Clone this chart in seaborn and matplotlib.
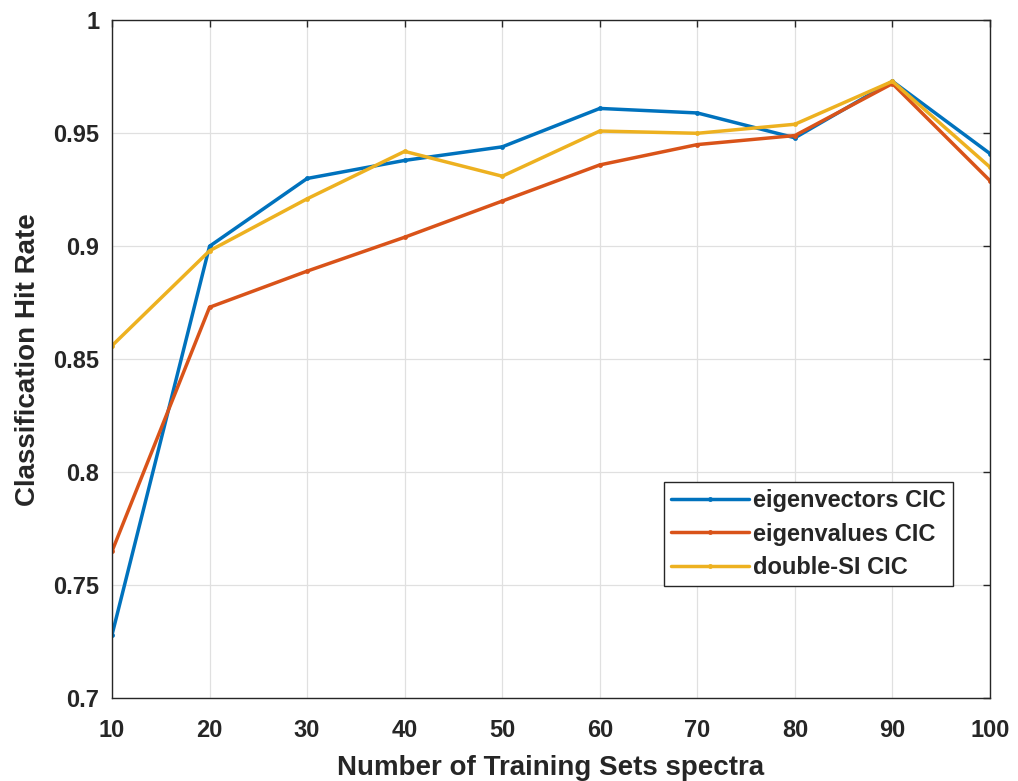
import numpy as np
import pandas as pd
import matplotlib
matplotlib.use("Agg")
import matplotlib.pyplot as plt
import seaborn as sns

training_sets = [10, 20, 30, 40, 50, 60, 70, 80, 90, 100]
eigenvectors_cic = [0.728, 0.900, 0.930, 0.938, 0.944, 0.961, 0.959, 0.948, 0.973, 0.941]
eigenvalues_cic = [0.765, 0.873, 0.889, 0.904, 0.920, 0.936, 0.945, 0.949, 0.972, 0.929]
double_si_cic = [0.856, 0.898, 0.921, 0.942, 0.931, 0.951, 0.950, 0.954, 0.973, 0.935]
series_names = ["eigenvectors CIC", "eigenvalues CIC", "double-SI CIC"]
colors = ["#0072BD", "#D95319", "#EDB120"]

df = pd.concat([
    pd.DataFrame({"x": training_sets, "y": vals, "series": name})
    for name, vals in zip(series_names, [eigenvectors_cic, eigenvalues_cic, double_si_cic])
])

sns.set_style("white")
plt.rcParams['font.family'] = ['Liberation Sans', 'DejaVu Sans']

fig = plt.figure(figsize=(10.18, 7.81), dpi=100)
ax = fig.add_axes([0.110, 0.106, 0.8625, 0.868])

sns.lineplot(data=df, x="x", y="y", hue="series", hue_order=series_names,
             palette=colors, linewidth=2.5, marker="o", markersize=3.5,
             markeredgewidth=0, ax=ax, legend=True)

ax.set_xlim(10, 100)
ax.set_ylim(0.7, 1.0)
ax.set_xticks(training_sets)
ax.set_xticklabels([str(v) for v in training_sets])
yt = [0.7, 0.75, 0.8, 0.85, 0.9, 0.95, 1.0]
ax.set_yticks(yt)
ax.set_yticklabels(["0.7", "0.75", "0.8", "0.85", "0.9", "0.95", "1"])
ax.grid(True, color="#e0e0e0", linewidth=0.9)
ax.tick_params(axis="both", which="both", direction="in", length=5, width=1,
               labelsize=17, color="#262626", top=True, right=True)
ax.tick_params(axis="y", pad=9)
ax.tick_params(axis="x", pad=15)
for lab in ax.get_xticklabels() + ax.get_yticklabels():
    lab.set_fontweight("bold")
    lab.set_color("#262626")
for sp in ax.spines.values():
    sp.set_color("#262626")
    sp.set_linewidth(1.0)

ax.set_xlabel("Number of Training Sets spectra", fontsize=20, fontweight="bold", color="#262626", labelpad=9)
ax.set_ylabel("Classification Hit Rate", fontsize=20, fontweight="bold", color="#262626", labelpad=9)

leg = ax.legend(loc="lower right", bbox_to_anchor=(0.958, 0.165), frameon=True,
                fancybox=False, edgecolor="#262626", framealpha=1,
                prop={"weight": "bold", "size": 17}, handlelength=3.3,
                borderpad=0.3, labelspacing=0.45, handletextpad=0.2, borderaxespad=0)
leg.get_frame().set_linewidth(1.0)

fig.savefig("out.png", dpi=100)
